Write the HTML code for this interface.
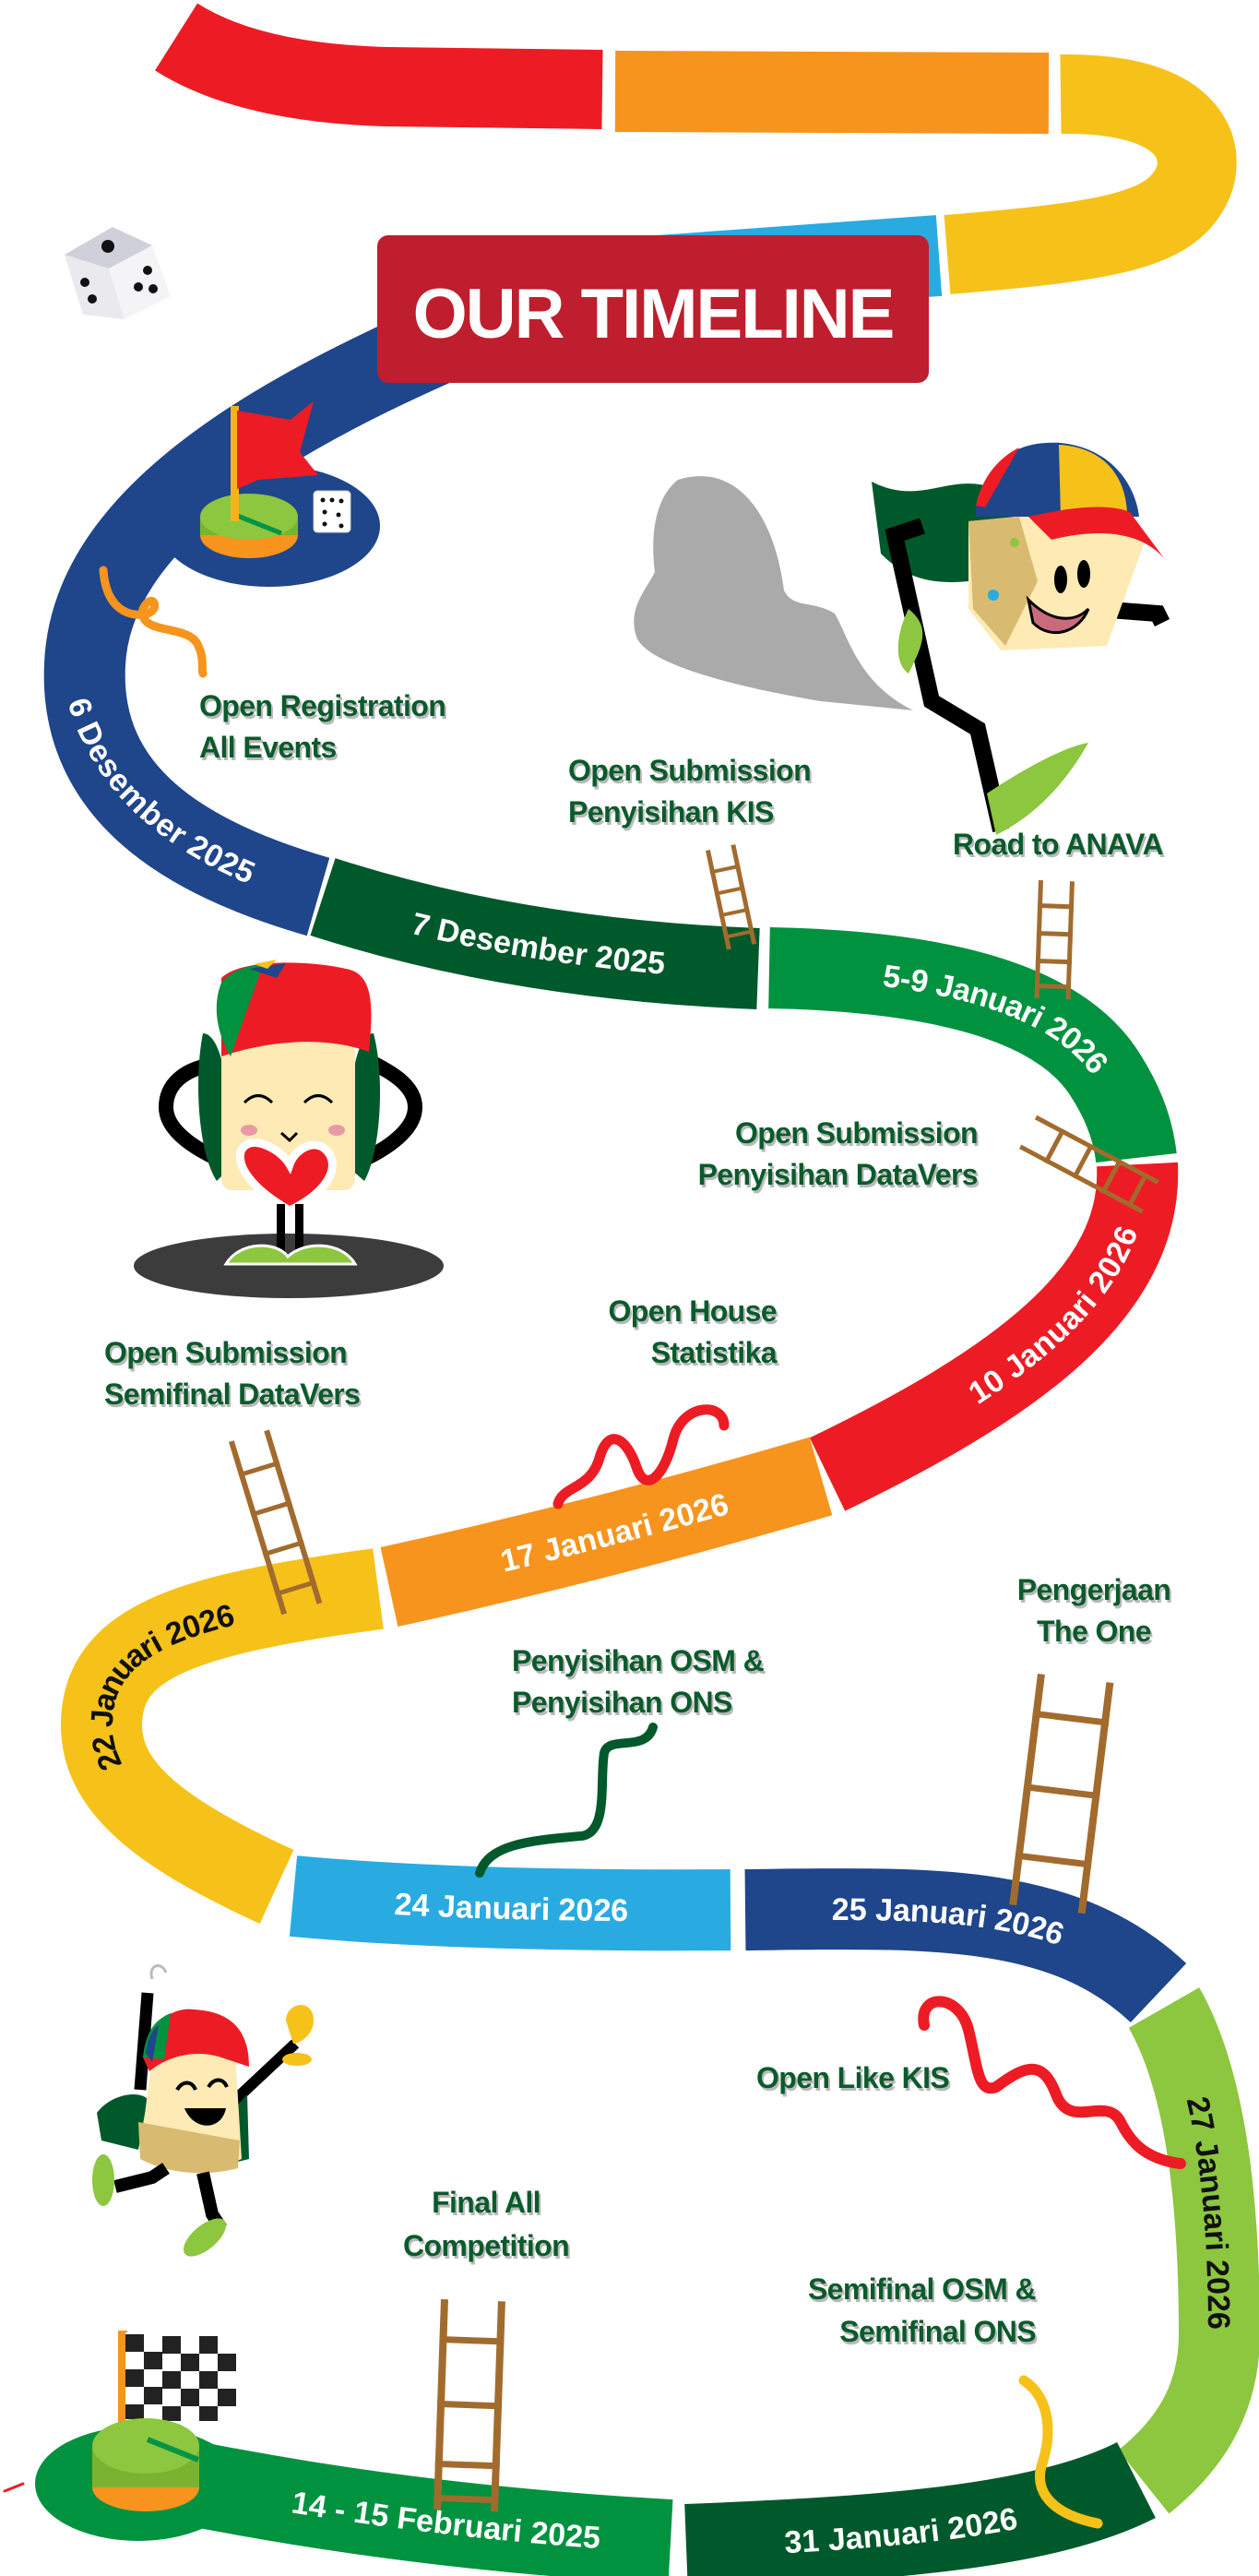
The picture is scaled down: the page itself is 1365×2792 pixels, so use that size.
<!DOCTYPE html>
<html><head><meta charset="utf-8">
<style>
html,body{margin:0;padding:0;background:#fff;}
#wrap{position:relative;width:1365px;height:2792px;overflow:hidden;background:#fff;}
svg{position:absolute;left:0;top:0;}
.lbl{position:absolute;font-family:"Liberation Sans",sans-serif;font-weight:bold;font-size:32px;line-height:45px;color:#0b5a2c;letter-spacing:-0.6px;text-shadow:2px 3px 0 #b9b9b9;white-space:nowrap;}
.r{text-align:right}.c{text-align:center}
</style></head><body><div id="wrap">
<svg width="1365" height="2792" viewBox="0 0 1365 2792" xmlns="http://www.w3.org/2000/svg">
<defs>
<path id="p6" d="M75,700 C85,850 200,930 345,972"/>
<path id="p7" d="M350,972 Q560,1040 822,1050"/>
<path id="p59" d="M834,1049 C1000,1052 1140,1080 1195,1160 C1215,1190 1228,1220 1232,1255"/>
<path id="p10" d="M897,1598 C1100,1500 1240,1400 1233,1255"/>
<path id="p17" d="M422,1720 Q650,1670 890,1600"/>
<path id="p22" d="M300,2045 C180,1990 110,1940 110,1870 C110,1780 200,1750 410,1722"/>
<path id="p24" d="M318,2055 Q500,2072 792,2070"/>
<path id="p25" d="M808,2070 C1000,2068 1150,2060 1256,2160"/>
<path id="p27" d="M1262,2176 C1310,2260 1322,2400 1322,2530 C1322,2600 1290,2650 1240,2690"/>
<path id="p31" d="M744,2760 C950,2752 1130,2740 1232,2688"/>
<path id="p14" d="M200,2690 Q450,2740 727,2755"/>
</defs>
<g fill="none" stroke-linecap="butt">
<!-- top bands -->
<path d="M191,40 Q270,90 420,94 L653,97" stroke="#ED1C24" stroke-width="86"/>
<path d="M667,99 L1137,101" stroke="#F7941D" stroke-width="88"/>
<path d="M1150,102 C1300,100 1310,170 1290,205 C1265,250 1200,262 1027,276" stroke="#F6C21A" stroke-width="86"/>
<path d="M1018,277 L700,300" stroke="#29ABE2" stroke-width="88"/>
<path d="M600,320 C350,420 100,540 92,720 C85,860 200,930 345,972" stroke="#1F458B" stroke-width="88"/>
<use href="#p7" stroke="#00592B" stroke-width="88"/>
<use href="#p59" stroke="#00923F" stroke-width="88"/>
<path d="M897,1598 C1100,1500 1240,1400 1233,1262" stroke="#ED1C24" stroke-width="88"/>
<use href="#p17" stroke="#F7941D" stroke-width="88"/>
<use href="#p22" stroke="#F6C21A" stroke-width="88"/>
<use href="#p24" stroke="#29ABE2" stroke-width="88"/>
<use href="#p25" stroke="#1F458B" stroke-width="88"/>
<use href="#p27" stroke="#8DC63F" stroke-width="88"/>
<use href="#p31" stroke="#00592B" stroke-width="92"/>
<use href="#p14" stroke="#00923F" stroke-width="92"/>
</g>
<ellipse cx="292" cy="570" rx="120" ry="66" fill="#1F458B"/>
<ellipse cx="150" cy="2692" rx="112" ry="62" fill="#00923F"/>
<!-- dates -->
<g font-family="Liberation Sans,sans-serif" font-weight="bold" font-size="34" fill="#fff">
<text dy="12"><textPath href="#p6" startOffset="48%" text-anchor="middle">6 Desember 2025</textPath></text>
<text dy="12"><textPath href="#p7" startOffset="50%" text-anchor="middle">7 Desember 2025</textPath></text>
<text dy="12"><textPath href="#p59" startOffset="52%" text-anchor="middle">5-9 Januari 2026</textPath></text>
<text dy="12"><textPath href="#p10" startOffset="60%" text-anchor="middle">10 Januari 2026</textPath></text>
<text dy="12"><textPath href="#p17" startOffset="52%" text-anchor="middle">17 Januari 2026</textPath></text>
<text dy="12" fill="#111"><textPath href="#p22" startOffset="55%" text-anchor="middle">22 Januari 2026</textPath></text>
<text dy="12"><textPath href="#p24" startOffset="50%" text-anchor="middle">24 Januari 2026</textPath></text>
<text dy="12"><textPath href="#p25" startOffset="47%" text-anchor="middle">25 Januari 2026</textPath></text>
<text dy="12" fill="#111"><textPath href="#p27" startOffset="42%" text-anchor="middle">27 Januari 2026</textPath></text>
<text dy="12"><textPath href="#p31" startOffset="47%" text-anchor="middle">31 Januari 2026</textPath></text>
<text dy="12"><textPath href="#p14" startOffset="54%" text-anchor="middle">14 - 15 Februari 2025</textPath></text>
</g>
<!-- title -->
<rect x="409" y="255" width="598" height="160" rx="12" fill="#BE1E2D"/>
<text x="708" y="366" text-anchor="middle" font-family="Liberation Sans,sans-serif" font-weight="bold" font-size="76" fill="#fff" letter-spacing="-2">OUR TIMELINE</text>
<!-- dice -->
<g transform="translate(70,231)">
<polygon points="0,45 48,60 65,115 20,110" fill="#e9e9ee"/>
<polygon points="0,45 48,60 95,35 52,15" fill="#cfd0da"/>
<polygon points="48,60 95,35 115,90 65,115" fill="#f4f4f6"/>
<circle cx="47" cy="36" r="7" fill="#111"/><circle cx="22" cy="75" r="5" fill="#111"/><circle cx="30" cy="93" r="5" fill="#111"/>
<circle cx="90" cy="62" r="5" fill="#111"/><circle cx="80" cy="80" r="5" fill="#111"/><circle cx="96" cy="82" r="5" fill="#111"/>
</g>
<!-- flag platform -->
<g transform="translate(215,430)">
<ellipse cx="55" cy="150" rx="53" ry="25" fill="#F7941D"/>
<rect x="2" y="130" width="106" height="20" fill="#7ab32f"/>
<ellipse cx="55" cy="130" rx="53" ry="25" fill="#8DC63F"/>
<line x1="40" y1="128" x2="90" y2="148" stroke="#009444" stroke-width="5"/>
<rect x="35" y="10" width="9" height="125" fill="#F7B21B"/>
<polygon points="42,15 100,25 125,5 110,60 130,85 65,90 42,100" fill="#ED1C24"/>
<rect x="125" y="102" width="40" height="45" rx="4" fill="#fff" stroke="#ccc"/>
<g fill="#111"><circle cx="135" cy="112" r="2.5"/><circle cx="145" cy="112" r="2.5"/><circle cx="155" cy="113" r="2.5"/><circle cx="137" cy="125" r="2.5"/><circle cx="152" cy="128" r="2.5"/><circle cx="137" cy="138" r="2.5"/><circle cx="155" cy="140" r="2.5"/></g>
</g>
<!-- running character -->
<path d="M735,520 C800,500 840,560 850,640 C860,660 880,650 905,665 C920,690 930,740 990,770 L890,760 C800,745 700,720 690,690 C680,660 700,640 710,620 C705,580 710,540 735,520Z" fill="#aaaaaa"/>
<g transform="translate(900,460)">
<path d="M45,62 C100,90 130,50 180,70 C220,110 200,170 150,170 C100,175 75,160 55,140Z" fill="#00592B"/>
<path d="M100,110 L70,120 L110,300 L160,330 L185,440" stroke="#000" stroke-width="18" fill="none"/>
<path d="M290,200 L355,205 L360,215" stroke="#000" stroke-width="18" fill="none"/>
<path d="M85,200 C70,230 70,260 85,270 C100,240 110,220 85,200Z" fill="#8DC63F"/>
<path d="M170,400 C200,380 250,350 280,345 C260,380 230,420 180,445Z" fill="#8DC63F"/>
<polygon points="150,105 305,90 340,130 300,240 185,245 150,200" fill="#FDEAB5"/>
<polygon points="150,105 205,100 225,170 190,240 155,200" fill="#D8BB70"/>
<path d="M158,88 C175,30 210,18 250,20 C300,25 330,60 335,100 L158,100Z" fill="#1F458B"/>
<path d="M248,22 C300,25 322,60 322,100 L250,100Z" fill="#F6C21A"/>
<path d="M158,88 C165,55 185,35 205,25 L168,90Z" fill="#ED1C24"/>
<path d="M215,100 C260,90 300,85 325,95 L362,145 C340,120 300,110 240,125Z" fill="#ED1C24"/>
<ellipse cx="250" cy="168" rx="7" ry="15" fill="#000"/><ellipse cx="275" cy="162" rx="7" ry="15" fill="#000"/>
<path d="M215,190 C240,215 265,215 280,200 C270,225 240,235 220,215Z" fill="#c96b7c" stroke="#000" stroke-width="3"/>
<circle cx="177" cy="185" r="6" fill="#29ABE2"/><circle cx="200" cy="128" r="5" fill="#8DC63F"/>
</g>
<!-- heart character -->
<ellipse cx="313" cy="1372" rx="168" ry="35" fill="#3c3c3c"/>
<g>
<path d="M240,1258 C200,1240 180,1220 180,1200 C180,1175 200,1160 225,1155" stroke="#000" stroke-width="16" fill="none"/>
<path d="M392,1258 C430,1240 450,1220 450,1200 C450,1175 420,1160 400,1150" stroke="#000" stroke-width="16" fill="none"/>
<path d="M220,1120 C240,1120 250,1180 255,1260 L235,1280 C215,1250 210,1170 220,1120Z" fill="#00592B"/>
<path d="M405,1120 C385,1120 378,1180 372,1260 L395,1280 C412,1250 418,1170 405,1120Z" fill="#00592B"/>
<rect x="240" y="1130" width="145" height="160" rx="12" fill="#FDEAB5"/>
<path d="M240,1060 C260,1040 330,1040 375,1050 C405,1055 405,1090 400,1140 C360,1125 300,1125 240,1145Z" fill="#ED1C24"/>
<path d="M240,1065 C250,1052 268,1046 285,1046 L250,1145 C235,1120 230,1090 240,1065Z" fill="#00923F"/>
<path d="M270,1050 L310,1044 L300,1060Z" fill="#1F458B"/><path d="M275,1045 L300,1040 L290,1050Z" fill="#F6C21A"/>
<path d="M265,1195 C275,1185 285,1185 295,1195 M330,1195 C340,1185 350,1185 360,1195" stroke="#000" stroke-width="3" fill="none"/>
<ellipse cx="270" cy="1225" rx="9" ry="6" fill="#e79aa6"/><ellipse cx="365" cy="1225" rx="9" ry="6" fill="#e79aa6"/>
<path d="M305,1228 L314,1236 L322,1228" stroke="#000" stroke-width="3" fill="none"/>
<path d="M314,1312 C240,1270 255,1230 285,1240 C300,1245 310,1255 314,1262 C320,1245 340,1235 352,1245 C370,1260 360,1290 314,1312Z" fill="#ED1C24" stroke="#fff" stroke-width="9"/>
<rect x="300" y="1305" width="9" height="55" fill="#000"/><rect x="320" y="1305" width="9" height="55" fill="#000"/>
<path d="M245,1370 C260,1345 300,1345 312,1362 C330,1345 370,1345 385,1370 Z" fill="#8DC63F" stroke="#fff" stroke-width="3"/>
</g>
<!-- jumping character -->
<g>
<path d="M160,2160 L152,2265" stroke="#000" stroke-width="13" fill="none"/>
<path d="M165,2145 C160,2130 175,2125 180,2138" stroke="#bbb" stroke-width="3" fill="none"/>
<path d="M240,2290 L320,2215" stroke="#000" stroke-width="12" fill="none"/>
<path d="M310,2190 C310,2170 340,2165 340,2190 C340,2205 325,2215 318,2215Z" fill="#F6C21A"/>
<ellipse cx="322" cy="2232" rx="16" ry="7" fill="#F6C21A"/>
<path d="M105,2290 C120,2270 150,2265 160,2275 L150,2330 L110,2320Z" fill="#00592B"/>
<path d="M250,2290 L268,2270 L270,2340 L250,2345Z" fill="#00592B"/>
<path d="M165,2230 C175,2210 230,2205 255,2225 L262,2340 C230,2355 175,2350 152,2330Z" fill="#FDEAB5"/>
<path d="M150,2300 L260,2320 L258,2350 C220,2360 180,2355 152,2340Z" fill="#D8BB70"/>
<path d="M155,2230 C160,2190 190,2175 210,2178 C250,2180 270,2200 270,2240 L240,2230 C210,2220 180,2230 162,2245Z" fill="#ED1C24"/>
<path d="M155,2230 C158,2200 170,2188 185,2182 L178,2232Z" fill="#00923F"/>
<path d="M158,2225 C160,2210 165,2200 172,2195 L165,2235Z" fill="#1F458B"/>
<path d="M192,2265 C198,2255 208,2255 212,2265 M226,2262 C232,2252 242,2252 246,2262" stroke="#000" stroke-width="4" fill="none"/>
<path d="M200,2285 C210,2310 240,2310 245,2285Z" fill="#000"/>
<path d="M180,2350 L165,2360 L125,2370" stroke="#000" stroke-width="14" fill="none"/>
<path d="M220,2355 L230,2400 L240,2415" stroke="#000" stroke-width="14" fill="none"/>
<ellipse cx="112" cy="2363" rx="12" ry="28" fill="#8DC63F"/>
<ellipse cx="222" cy="2425" rx="28" ry="13" transform="rotate(-40 222 2425)" fill="#8DC63F"/>
</g>
<!-- checkered flag & platform -->
<g transform="translate(100,2526)">
<rect x="28" y="0" width="10" height="110" fill="#F7941D"/>
<rect x="36" y="2" width="120" height="95" fill="#fff"/>
<g fill="#222">
<rect x="36" y="4" width="20" height="19"/><rect x="76" y="6" width="20" height="19"/><rect x="116" y="6" width="20" height="19"/>
<rect x="56" y="23" width="20" height="19"/><rect x="96" y="25" width="20" height="19"/><rect x="136" y="25" width="20" height="19"/>
<rect x="36" y="42" width="20" height="19"/><rect x="76" y="44" width="20" height="19"/><rect x="116" y="44" width="20" height="19"/>
<rect x="56" y="61" width="20" height="19"/><rect x="96" y="63" width="20" height="19"/><rect x="136" y="63" width="20" height="19"/>
<rect x="36" y="80" width="20" height="16"/><rect x="76" y="82" width="20" height="16"/><rect x="116" y="82" width="20" height="16"/>
</g>
<ellipse cx="58" cy="170" rx="58" ry="26" fill="#F7941D"/>
<rect x="0" y="125" width="116" height="45" fill="#7ab32f"/>
<ellipse cx="58" cy="125" rx="58" ry="30" fill="#8DC63F"/>
<line x1="60" y1="118" x2="115" y2="140" stroke="#009444" stroke-width="6"/>
</g>
<!-- ladders -->
<g fill="#A26B2E">
<g transform="translate(765,922) rotate(-12)"><rect x="0" y="0" width="5" height="110"/><rect x="28" y="0" width="5" height="110"/><rect x="0" y="22" width="33" height="4"/><rect x="0" y="46" width="33" height="4"/><rect x="0" y="70" width="33" height="4"/><rect x="0" y="94" width="33" height="4"/></g>
<g transform="translate(1126,954) rotate(2)"><rect x="0" y="0" width="5" height="128"/><rect x="34" y="0" width="5" height="128"/><rect x="0" y="25" width="39" height="5"/><rect x="0" y="55" width="39" height="5"/><rect x="0" y="85" width="39" height="5"/><rect x="0" y="112" width="39" height="5"/></g>
<g transform="translate(1105,1245) rotate(-62)"><rect x="0" y="0" width="5" height="150"/><rect x="36" y="0" width="5" height="150"/><rect x="0" y="30" width="41" height="5"/><rect x="0" y="65" width="41" height="5"/><rect x="0" y="100" width="41" height="5"/><rect x="0" y="132" width="41" height="5"/></g>
<g transform="translate(248,1563) rotate(-17)"><rect x="0" y="0" width="6" height="196"/><rect x="40" y="0" width="6" height="196"/><rect x="0" y="35" width="46" height="5"/><rect x="0" y="80" width="46" height="5"/><rect x="0" y="125" width="46" height="5"/><rect x="0" y="170" width="46" height="5"/></g>
<g transform="translate(1125,1814) rotate(7)"><rect x="0" y="0" width="8" height="252"/><rect x="75" y="0" width="8" height="252"/><rect x="0" y="40" width="83" height="7"/><rect x="0" y="120" width="83" height="7"/><rect x="0" y="195" width="83" height="7"/></g>
<g transform="translate(478,2492) rotate(2)"><rect x="0" y="0" width="8" height="228"/><rect x="62" y="0" width="8" height="228"/><rect x="0" y="40" width="70" height="7"/><rect x="0" y="110" width="70" height="7"/><rect x="0" y="175" width="70" height="7"/><rect x="0" y="212" width="70" height="7"/></g>
</g>
<!-- snakes -->
<g fill="none" stroke-linecap="round">
<path d="M112,618 C115,660 140,670 160,665 C175,660 165,640 155,660 C150,690 205,675 215,700 C222,715 218,725 220,730" stroke="#F7941D" stroke-width="9"/>
<path d="M605,1630 C610,1610 640,1615 650,1580 C660,1545 680,1560 690,1590 C700,1620 720,1600 730,1560 C740,1520 785,1520 785,1545" stroke="#ED1C24" stroke-width="11"/>
<path d="M520,2030 C530,2000 570,1995 630,1990 C660,1987 650,1930 655,1900 C660,1880 700,1900 708,1872" stroke="#00592B" stroke-width="10"/>
<path d="M1002,2195 C995,2160 1040,2160 1050,2200 C1060,2240 1060,2270 1080,2262 C1110,2240 1130,2230 1145,2270 C1160,2310 1200,2270 1215,2300 C1225,2320 1240,2340 1280,2345" stroke="#ED1C24" stroke-width="12"/>
<path d="M1110,2580 C1140,2600 1140,2640 1130,2670 C1120,2700 1140,2725 1190,2735" stroke="#F6C21A" stroke-width="11"/>
<path d="M5,2700 L25,2692" stroke="#ED1C24" stroke-width="3"/>
</g>
</svg>
<div class="lbl" style="left:216px;top:743px">Open Registration<br>All Events</div>
<div class="lbl" style="left:616px;top:813px">Open Submission<br>Penyisihan KIS</div>
<div class="lbl" style="left:1033px;top:893px">Road to ANAVA</div>
<div class="lbl r" style="right:305px;top:1206px">Open Submission<br>Penyisihan DataVers</div>
<div class="lbl r" style="right:523px;top:1399px">Open House<br>Statistika</div>
<div class="lbl" style="left:113px;top:1444px">Open Submission<br>Semifinal DataVers</div>
<div class="lbl" style="left:555px;top:1778px">Penyisihan OSM &amp;<br>Penyisihan ONS</div>
<div class="lbl c" style="left:1036px;width:300px;top:1701px">Pengerjaan<br>The One</div>
<div class="lbl" style="left:820px;top:2230px">Open Like KIS</div>
<div class="lbl c" style="left:377px;width:300px;top:2364px;line-height:47px">Final All<br>Competition</div>
<div class="lbl r" style="right:242px;top:2458px;line-height:46px">Semifinal OSM &amp;<br>Semifinal ONS</div>
</div></body></html>
